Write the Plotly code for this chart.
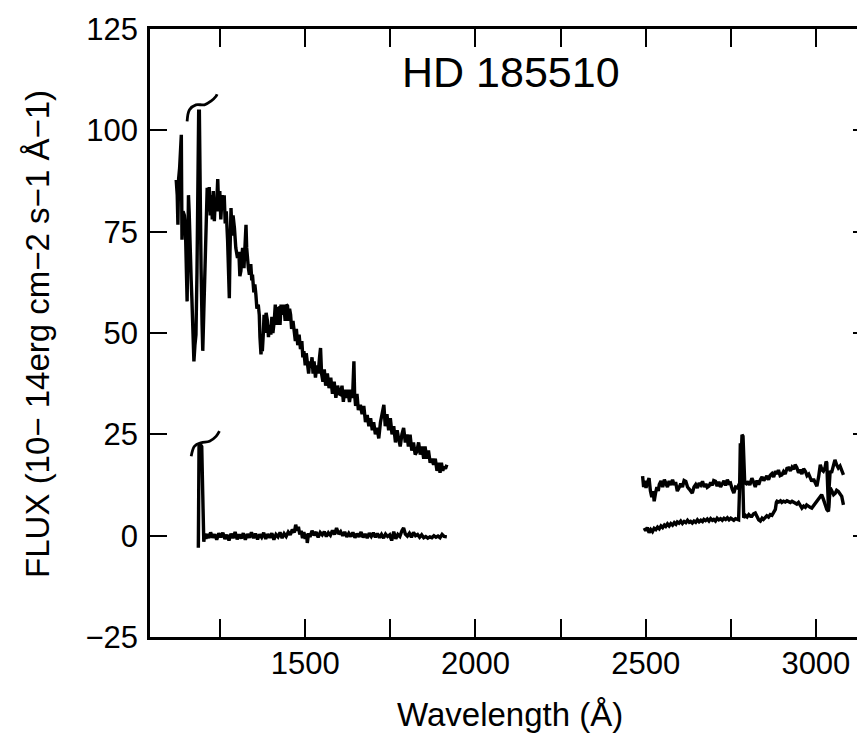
import plotly.graph_objects as go

# ---------------- data (wavelength in Angstrom, flux in 1e-14 erg cm-2 s-1 A-1) ----------------
swp_wave = [1121,1124,1126,1128,1131,1134,1136,1137,1138,1141,1145,1148,1150,1153,1155,1157,1159,1161,1163,1165,
            1167,1170,1173,1176,1179,1182,1184,1186,1187,1189,1191,1194,1197,1199,1202,1204,1207,1209,1212,1215,
            1218,1221,1224,1227,1230,1233,1236,1239,1243,1246,1249,1252,1256,1259,1262,1265,1268,1272,1275,1277,
            1279,1282,1285,1288,1292,1296,1301,1305,1308,1311,1314,1316,1320,1323,1326,1328,1330,1333,1336,1340,
            1343,1345,1349,1352,1355,1358,1362,1365,1367,1370,1372,1374,1377,1379,1382,1385,1389,1392,1395,1399,
            1402,1405,1409,1412,1416,1419,1423,1426,1429,1433,1437,1441,1445,1448,1451,1454,1457,1460,1464,1467,
            1471,1474,1478,1482,1486,1490,1493,1496,1500,1503,1506,1510,1513,1516,1520,1523,1526,1530,1534,1538,
            1542,1545,1548,1552,1556,1560,1565,1570,1575,1580,1585,1590,1595,1600,1604,1608,1612,1616,1620,1625,
            1630,1635,1639,1641,1643,1645,1648,1652,1656,1662,1667,1672,1677,1682,1687,1692,1697,1701,1706,1711,
            1716,1721,1726,1731,1735,1740,1745,1750,1755,1760,1765,1770,1774,1779,1784,1789,1794,1799,1803,1808,
            1813,1818,1823,1828,1833,1838,1843,1848,1852,1857,1862,1867,1872,1877,1882,1887,1892,1896,1900,1904,
            1908,1912,1916]
swp_flux = [87.8,84,76.7,88,90.7,97,98.9,85,73,80,79,76,68,57.8,70,84,80,76,71,63,
            58.6,50,43,47,49.6,65,83,95,104.7,104.7,85,66,52,45.6,55,61,70,76,85.8,80,
            86,79,84,78,85,77.6,83,80,88,80,85,78,84,81,84,77,80,72.7,65,58.6,
            70,80.8,74,79,75.9,71,68.5,70,64,65.3,69,71,66,74,76.7,71,68.5,66,64.4,67,
            63,64.4,60,62,59.5,56,57,54.5,49,44.7,47,45.5,50,54.5,50,55,53,49,52,49.6,
            54,50,53,57,52,56,56.2,52,57,54.5,57,53,57,56.7,53,56,54.5,51,53,50.4,
            48,51,47,49.6,46,48,44,45.5,42,45,43,40,43,41.4,44,40,43,39,42,40,
            44,46.3,40,38,41,37,40,36.4,39,35,38,34,37,35,34.8,37,33,36,34,36,
            33,36,34,40,43,35,32,35,31,32.3,30,32,28,29.8,27,29,26,28,25,26.6,
            24,28,30,32.3,27,30,26,29,25,27,23,26,24.1,22,25,26.6,23,25,22,24.9,
            21,23,20,20.8,23,20,22,19,22,19,21,18,19,17.5,19,16,18,15.5,18,16,
            17,16.5,17.5]

swp_bg_wave = [1186,1187,1188,1192,1196,1199,1202,1205,1208,1212,1217,1222,1228,1234,1240,1246,1252,1258,1264,1270,
               1276,1282,1288,1294,1300,1306,1312,1318,1324,1330,1336,1342,1348,1354,1360,1366,1372,1378,1384,1390,
               1396,1402,1408,1414,1420,1426,1432,1438,1444,1450,1456,1462,1468,1472,1476,1480,1484,1488,1492,1496,
               1500,1504,1506,1510,1514,1520,1526,1532,1538,1544,1550,1556,1562,1568,1574,1580,1586,1592,1598,1604,
               1610,1616,1622,1628,1634,1640,1646,1652,1658,1664,1670,1676,1682,1688,1694,1700,1706,1712,1718,1724,
               1730,1736,1742,1748,1754,1760,1766,1772,1778,1784,1789,1794,1800,1806,1812,1818,1824,1830,1836,1842,
               1848,1854,1860,1866,1872,1878,1884,1890,1896,1902,1908,1916]
swp_bg_flux = [-3,10,22,22.5,22,10,-1.5,0.5,-0.8,0.4,-0.6,0.8,-0.5,0.3,-1,0.6,-0.4,0.7,-0.8,0.2,
               -1.2,0.5,-0.6,0.9,-0.9,0.3,-0.7,0.6,-1,0.4,-0.5,0.8,-0.6,0.5,-0.9,0.3,-0.4,0.7,-0.8,0.4,
               -0.5,0.6,-1,0.3,-0.3,0.8,-0.6,0.5,-0.2,0.9,0.2,1.5,0.8,2.7,1.2,2.2,0.3,1.2,-0.6,0.9,
               -0.8,0.5,-1.8,0.6,-0.3,1.2,0.1,0.9,-0.4,0.8,0.2,1.0,-0.2,0.7,0.1,1.3,0.3,1.9,0.4,1.0,
               0.0,0.9,-0.3,0.6,-0.2,0.8,-0.5,0.5,-0.3,0.9,-0.4,0.4,-0.6,0.6,-0.2,0.7,-0.4,0.5,-0.5,0.3,
               -0.6,0.4,-0.2,0.2,-1.2,1.0,-0.8,0.3,-0.2,1.2,1.9,0.4,-0.1,0.6,-0.4,0.8,0.0,0.3,-0.4,0.2,
               -0.5,-0.2,-0.6,-0.3,-0.5,0.0,-0.4,-0.1,-0.5,0.3,-0.2,-0.3]

lwr_hi_wave = [2491,2494,2497,2501,2505,2510,2514,2518,2522,2525,2529,2533,2537,2540,2545,2550,2555,2559,2564,2569,
               2574,2579,2584,2588,2593,2598,2603,2608,2613,2618,2623,2628,2633,2637,2642,2647,2652,2657,2662,2667,
               2672,2677,2681,2686,2691,2696,2700,2705,2710,2715,2720,2725,2730,2735,2740,2745,2749,2754,2759,2764,
               2769,2774,2778,2781,2783,2786,2788,2791,2796,2801,2806,2812,2817,2822,2827,2832,2837,2842,2847,2852,
               2856,2861,2866,2871,2876,2881,2886,2890,2895,2900,2905,2910,2915,2920,2925,2930,2935,2939,2944,2949,
               2954,2959,2964,2969,2974,2979,2984,2988,2993,2998,3003,3008,3013,3018,3022,3027,3030,3032,3034,3037,
               3039,3042,3046,3051,3056,3061,3066,3071,3076,3081]
lwr_hi_flux = [14.7,12,13.5,11.8,13,14.2,11,9.5,11,8.5,10.5,12,11,12.6,13.5,12,13.8,13,12,13.5,
               12.5,13.8,12.5,13.2,11,11.8,12.8,12,13.6,13.4,12,11.5,10.8,10.5,12,12.6,11.8,13,12.5,13.4,
               12,12.8,11.9,12.2,13.1,12.4,13.6,13.4,12.2,13.3,12,12.6,13.5,12.4,13.8,12.9,13,11.5,10.5,12,
               11.8,12.6,12.6,20,24.9,24.5,18,13,12.8,13.4,12.5,14.2,13.2,12,13.6,12.6,13.8,14.5,13.6,14.2,
               14.7,13.8,14.9,15.3,14.5,15.9,15.2,16.2,14.8,15,15.8,15.2,16.6,16.7,16,16.9,16.4,17.5,16.8,15.5,
               16.3,15.2,16.5,15.9,14.8,15.2,14.1,13.4,14,12.8,12.2,14.5,17.5,16.2,15.9,16.8,18.3,18,11,6.8,
               12,16,15.5,17.5,18.7,17.5,16.7,17.2,15.9,15]

lwr_lo_wave = [2496,2500,2505,2510,2515,2520,2525,2530,2535,2540,2545,2550,2555,2559,2564,2569,2574,2579,2584,2589,
               2593,2598,2603,2608,2613,2618,2623,2628,2632,2637,2642,2647,2652,2657,2662,2667,2671,2676,2681,2686,
               2691,2696,2700,2705,2710,2715,2720,2725,2730,2735,2740,2745,2750,2754,2759,2764,2769,2773,2776,2778,
               2783,2786,2788,2793,2798,2803,2808,2812,2817,2822,2827,2832,2837,2842,2846,2851,2856,2861,2866,2871,
               2876,2881,2884,2886,2891,2896,2900,2905,2910,2915,2920,2925,2930,2935,2939,2944,2949,2954,2959,2964,
               2969,2973,2978,2983,2988,2993,2998,3003,3008,3013,3017,3022,3027,3032,3037,3039,3042,3047,3052,3057,
               3061,3066,3071,3076,3081]
lwr_lo_flux = [1.9,1.2,2,0.7,1.5,1.0,1.8,1.5,2.1,1.7,2.4,2.0,2.6,2.3,2.9,2.4,3.0,2.6,3.2,2.8,
               3.4,3.1,3.6,3.0,3.5,3.2,3.8,3.3,3.5,3.1,3.6,3.3,3.9,3.4,3.8,3.5,4.0,3.7,4.1,3.6,
               4.2,3.8,4.0,3.6,4.3,3.9,4.2,3.8,4.3,4.0,4.4,3.9,4.3,4.1,3.8,4.2,3.9,3.9,12,22.4,
               22.4,12,4.4,5.0,4.6,5.2,4.8,4.8,5.4,5.6,4.5,3.9,3.6,4.3,4.0,4.4,4.9,4.6,5.2,5.0,
               5.6,6.5,8.2,8.5,8.3,8.6,8.2,8.5,8.3,8.6,8.4,8.2,8.5,8.3,8.1,7.8,8.2,7.5,6.8,7.3,
               7.0,7.6,7.2,7.0,6.8,7.4,8.0,8.5,9.3,9.6,10.1,9.0,7.6,6.5,6,9,11.8,11,10.1,10.5,
               11.2,10.9,10.3,9.7,7.6]

# hand-drawn "saturated" marks above the Lyman-alpha spikes
mark_hi_wave = [1153,1160,1179,1204,1223,1238,1241]
mark_hi_flux = [102.2,105.1,106.3,106.3,107.2,108.4,108.9]
mark_lo_wave = [1165,1175,1194,1219,1238,1248]
mark_lo_flux = [19.6,22.1,22.9,23.3,24.5,25.8]

x_ticks = [1250,1500,1750,2000,2250,2500,2750,3000]
x_ticktext = ["", "1500", "", "2000", "", "2500", "", "3000"]
y_ticks = [-25, 0, 25, 50, 75, 100, 125]
y_ticktext = ["\u221225", "0", "25", "50", "75", "100", "125"]

FONT = "Liberation Sans, Arial, Helvetica, sans-serif"
LW = 3.4

fig = go.Figure()
for xs, ys, w in [(swp_wave, swp_flux, LW), (swp_bg_wave, swp_bg_flux, LW),
                  (lwr_hi_wave, lwr_hi_flux, LW), (lwr_lo_wave, lwr_lo_flux, LW),
                  (mark_hi_wave, mark_hi_flux, 2.8), (mark_lo_wave, mark_lo_flux, 2.8)]:
    fig.add_trace(go.Scatter(x=xs, y=ys, mode="lines", line=dict(color="black", width=w),
                             line_shape="spline" if len(xs) < 10 else "linear",
                             showlegend=False, hoverinfo="skip"))

fig.update_xaxes(range=[1044, 3159], tickvals=x_ticks, ticktext=x_ticktext,
                 ticks="inside", ticklen=18, tickwidth=2, tickcolor="black",
                 showline=True, linewidth=2.5, linecolor="black", mirror="ticks",
                 showgrid=False, zeroline=False,
                 tickfont=dict(family=FONT, size=31, color="black"), ticklabelstandoff=-3)
fig.update_yaxes(range=[-25, 125], tickvals=y_ticks, ticktext=y_ticktext,
                 ticks="inside", ticklen=17, tickwidth=2, tickcolor="black",
                 showline=True, linewidth=2.5, linecolor="black", mirror="ticks",
                 showgrid=False, zeroline=False,
                 tickfont=dict(family=FONT, size=31, color="black"), ticklabelstandoff=3)

fig.add_annotation(text="HD 185510", xref="paper", yref="paper", x=0.502, y=0.93,
                   xanchor="center", yanchor="middle",
                   showarrow=False, font=dict(family=FONT, size=43, color="black"))
fig.add_annotation(text="Wavelength (\u00c5)", xref="paper", yref="paper", x=0.5, y=-0.128,
                   xanchor="center", yanchor="middle",
                   showarrow=False, font=dict(family=FONT, size=33, color="black"))
fig.add_annotation(text="FLUX (10\u2212 14erg cm\u22122 s\u22121 \u00c5\u22121)", xref="paper", yref="paper",
                   x=-0.156, y=0.498, textangle=-90, xanchor="center", yanchor="middle",
                   showarrow=False, font=dict(family=FONT, size=33, color="black"))

fig.update_layout(width=865, height=734, margin=dict(l=142, r=0, t=21, b=105),
                  plot_bgcolor="white", paper_bgcolor="white")
fig.write_html("out.html")
